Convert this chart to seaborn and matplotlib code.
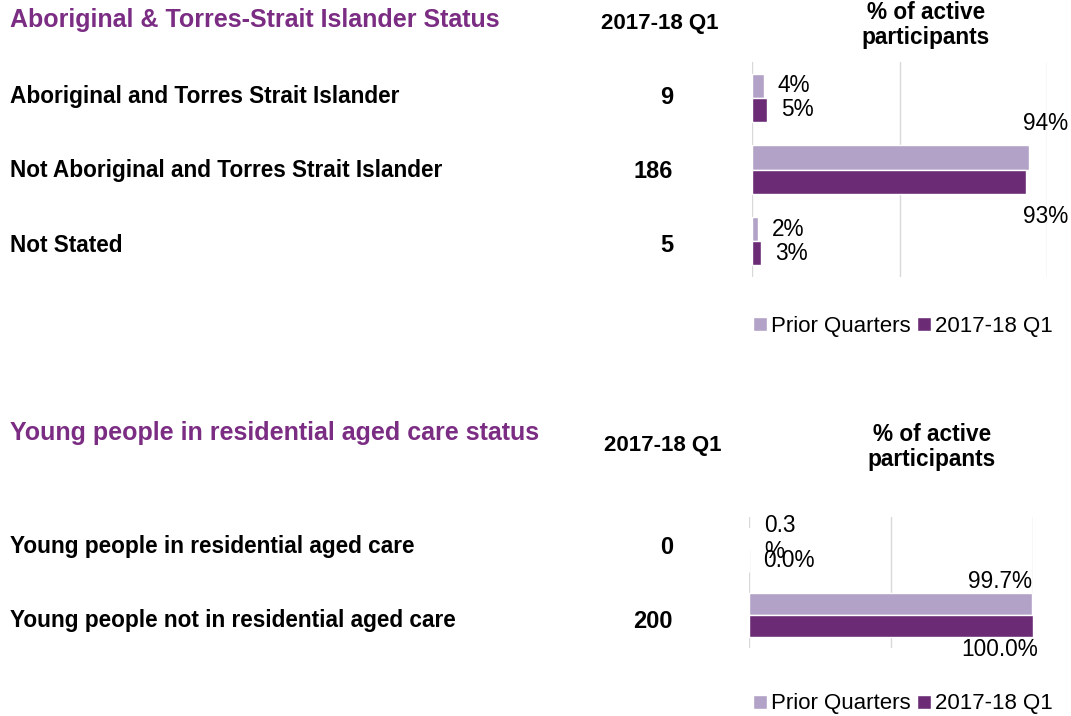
import numpy as np
import pandas as pd
import matplotlib
matplotlib.use("Agg")
import matplotlib.pyplot as plt
import seaborn as sns

# ---- data ----
atsi_categories = ["Aboriginal and Torres Strait Islander",
                   "Not Aboriginal and Torres Strait Islander",
                   "Not Stated"]
atsi_counts = [9, 186, 5]
atsi_prior = [4, 94, 2]
atsi_current = [5, 93, 3]

yprac_categories = ["Young people in residential aged care",
                    "Young people not in residential aged care"]
yprac_counts = [0, 200]
yprac_prior = [0.3, 99.7]
yprac_current = [0.0, 100.0]
yprac_prior_labels = ["0.3\n%", "99.7%"]
yprac_current_labels = ["0.0%", "100.0%"]

series = ["Prior Quarters", "2017-18 Q1"]
colors = ["#B3A2C7", "#6B2C75"]
title_color = "#7B2C83"

W, H = 1071, 716
sns.set_theme(style="white")
plt.rcParams["font.family"] = ["Liberation Sans", "DejaVu Sans"]
plt.rcParams["text.color"] = "black"

fig = plt.figure(figsize=(W / 100, H / 100), dpi=100)


def fx(x):
    return x / W


def fy(y):
    return 1 - y / H


def long_frame(cats, prior, current):
    return pd.DataFrame({
        "category": cats * 2,
        "value": list(prior) + list(current),
        "series": [series[0]] * len(cats) + [series[1]] * len(cats),
    })


def draw_panel(rect, cats, prior, current, labels, legend_y, label_style):
    ax = fig.add_axes(rect)
    df = long_frame(cats, prior, current)
    sns.barplot(data=df, x="value", y="category", hue="series", orient="h",
                palette=colors, width=0.67, ax=ax, saturation=1)
    ax.set_xlim(0, 100)
    ax.set_xticks([0, 50, 100])
    ax.grid(axis="x", color="#D9D9D9", linewidth=1)
    ax.set_axisbelow(True)
    for s in ax.spines.values():
        s.set_visible(False)
    ax.set_xticklabels([])
    ax.set_yticklabels([])
    ax.tick_params(length=0)
    ax.set_xlabel("")
    ax.set_ylabel("")

    # data labels
    for k, cont in enumerate(ax.containers):
        for i, bar in enumerate(cont):
            val = bar.get_width()
            yc = bar.get_y() + bar.get_height() / 2
            txt = labels[k][i]
            if val < 50:
                ax.annotate(txt, (val, yc), xytext=(14, 0), textcoords="offset pixels",
                            ha="left", va="center", fontsize=16.3, color="black",
                            linespacing=1.15)
            else:
                dx, dy, ha = label_style[k]
                ax.annotate(txt, (val, yc), xytext=(dx, dy), textcoords="offset pixels",
                            ha=ha, va="center", fontsize=16.3, color="black")

    handles, lbls = ax.get_legend_handles_labels()
    ax.legend(handles, lbls, loc="center", ncol=2, frameon=False,
              bbox_to_anchor=(fx(903), fy(legend_y)), bbox_transform=fig.transFigure,
              fontsize=16, labelcolor="black", handlelength=0.6, handleheight=0.6,
              handletextpad=0.2, columnspacing=0.3, borderpad=0)
    return ax


atsi_labels = [[f"{v:.0f}%" for v in atsi_prior], [f"{v:.0f}%" for v in atsi_current]]
draw_panel([fx(752), fy(277), fx(1047) - fx(752), (277 - 62) / H],
           atsi_categories, atsi_prior, atsi_current, atsi_labels, 326,
           [(-6, 34, "left"), (-3, -35, "left")])

draw_panel([fx(749), fy(648), fx(1033) - fx(749), (648 - 517) / H],
           yprac_categories, yprac_prior, yprac_current,
           [yprac_prior_labels, yprac_current_labels], 704,
           [(0, 23, "right"), (5, -23, "right")])

# ---- table text ----
fig.text(fx(10), fy(20), "Aboriginal & Torres-Strait Islander Status",
         color=title_color, fontsize=18, fontweight="bold", va="center")
fig.text(fx(660), fy(24), "2017-18 Q1", fontsize=16, fontweight="bold",
         ha="center", va="center")
fig.text(fx(926), fy(25), "% of active\nparticipants", fontsize=16.3, fontweight="bold",
         ha="center", va="center", linespacing=1.12)
for cat, n, y in zip(atsi_categories, atsi_counts, [97, 171, 246]):
    fig.text(fx(10), fy(y), cat, fontsize=16.3, fontweight="bold", va="center")
    fig.text(fx(673), fy(y), str(n), fontsize=17, fontweight="bold",
             ha="right", va="center")

fig.text(fx(10), fy(433), "Young people in residential aged care status",
         color=title_color, fontsize=18, fontweight="bold", va="center")
fig.text(fx(663), fy(445), "2017-18 Q1", fontsize=16, fontweight="bold",
         ha="center", va="center")
fig.text(fx(932), fy(447), "% of active\nparticipants", fontsize=16.3, fontweight="bold",
         ha="center", va="center", linespacing=1.12)
for cat, n, y in zip(yprac_categories, yprac_counts, [547, 621]):
    fig.text(fx(10), fy(y), cat, fontsize=16.3, fontweight="bold", va="center")
    fig.text(fx(673), fy(y), str(n), fontsize=17, fontweight="bold",
             ha="right", va="center")

fig.savefig("out.png", dpi=100)
